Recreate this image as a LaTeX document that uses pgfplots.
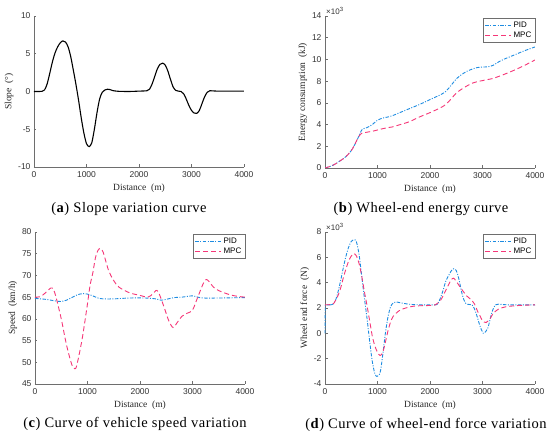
\documentclass[border=0pt]{standalone}
\usepackage{pgfplots}
\pgfplotsset{compat=1.18}
\usepackage{fontspec}
\setmainfont{Liberation Serif}
\newfontfamily\arialf{Liberation Sans}
\newfontfamily\capf[LetterSpace=3.5]{Liberation Serif}
\definecolor{pidblue}{RGB}{30,140,225}
\definecolor{mpcpink}{RGB}{245,55,120}
\definecolor{axgray}{RGB}{110,110,110}
\pgfplotsset{
  myax/.style={
    scale only axis,
    axis x line*=bottom, axis y line*=left,
    axis line style={axgray, line width=0.5pt},
    tick style={axgray, line width=0.5pt},
    tick align=inside,
    major tick length=2.5pt,
    xmin=0, xmax=4000,
    xtick={0,1000,2000,3000,4000},
    scaled ticks=false,
    /pgf/number format/assume math mode=true,
    /pgf/number format/1000 sep={},
    tick label style={font=\arialf\fontsize{8.5}{10}\selectfont, text=black!80},
    xticklabel style={yshift=-1pt},
    label style={font=\fontsize{9.5}{11}\selectfont, text=black!85},
    xlabel={Distance\enspace(m)},
    xlabel style={yshift=1pt},
    ylabel style={yshift=-2pt},
    legend cell align=left,
    legend style={at={(1,0.985)}, anchor=north east, draw=axgray,
      font=\arialf\fontsize{8}{9}\selectfont, inner sep=1.5pt, row sep=-1pt},
  },
  pid/.style={color=pidblue, line width=0.9pt, dash pattern=on 3.5pt off 1.5pt on 1pt off 1.5pt},
  mpc/.style={color=mpcpink, line width=0.9pt, dash pattern=on 5pt off 3pt},
  pidleg/.style={legend image code/.code={\color{pidblue}\draw[pidblue, line width=0.9pt, dash pattern=on 3.5pt off 1.5pt on 1pt off 1.5pt] (0pt,0pt) -- (26pt,0pt);}},
  mpcleg/.style={legend image code/.code={\color{mpcpink}\draw[mpcpink, line width=0.9pt, dash pattern=on 5pt off 3pt] (0pt,0pt) -- (26pt,0pt);}},
}
\begin{document}
\begin{tikzpicture}
\path (0pt,0pt) rectangle (550pt,436pt);

% (a)
\begin{axis}[myax, at={(34pt,269pt)}, anchor=south west, width=210pt, height=151pt,
  ymin=-10, ymax=10, ytick={-10,-5,0,5,10}, ylabel={Slope\enspace(°)}]
\addplot[black, line width=1.1pt, smooth] coordinates {
(0,0) (100,0) (150,0.02) (200,0.2) (250,1.0) (300,2.4) (350,3.9) (400,5.1) (450,5.9) (500,6.45) (550,6.7) (600,6.55) (650,5.9) (700,4.6) (750,2.8) (800,0.9) (850,-1.2) (900,-3.5) (950,-5.5) (1000,-6.9) (1050,-7.3) (1100,-6.8) (1150,-5.0) (1200,-2.8) (1250,-1.0) (1300,-0.1) (1350,0.2) (1400,0.3) (1450,0.25) (1500,0.12) (1600,0.03) (1800,0.0) (2000,0.05) (2150,0.1) (2200,0.3) (2250,1.0) (2300,2.0) (2350,3.0) (2400,3.6) (2450,3.75) (2500,3.5) (2550,2.7) (2600,1.6) (2650,0.6) (2700,0.15) (2750,0.05) (2800,0.0) (2850,-0.3) (2900,-1.0) (2950,-1.85) (3000,-2.5) (3050,-2.85) (3100,-2.9) (3150,-2.5) (3200,-1.6) (3250,-0.7) (3300,-0.1) (3350,0.1) (3500,0.05) (4000,0.05)};
\end{axis}
\node[font=\capf\fontsize{14.5}{16}\selectfont] at (129pt,227pt) {(\textbf{a}) Slope variation curve};

% (b)
\begin{axis}[myax, at={(325pt,268pt)}, anchor=south west, width=210pt, height=152pt,
  ymin=0, ymax=14, ytick={0,2,...,14}, ylabel={Energy consumption\enspace(kJ)}]
\addlegendimage{pidleg}\addlegendentry{PID}
\addlegendimage{mpcleg}\addlegendentry{MPC}
\addplot[pid, smooth, forget plot] coordinates {
(0,0) (100,0.15) (200,0.38) (300,0.7) (400,1.05) (500,1.6) (550,2.0) (600,2.45) (650,3.0) (700,3.5) (750,3.65) (800,3.72) (900,4.0) (1000,4.4) (1100,4.6) (1200,4.7) (1300,4.85) (1400,5.05) (1600,5.45) (1800,5.85) (2000,6.3) (2200,6.75) (2300,7.05) (2400,7.6) (2500,8.2) (2600,8.6) (2700,8.9) (2800,9.1) (2900,9.25) (3000,9.3) (3100,9.32) (3200,9.45) (3300,9.75) (3400,10.0) (3600,10.4) (3800,10.8) (4000,11.15)};
\addplot[mpc, smooth, forget plot] coordinates {
(0,0) (100,0.15) (200,0.38) (300,0.7) (400,1.05) (500,1.6) (550,2.0) (600,2.5) (650,2.95) (700,3.2) (750,3.25) (800,3.3) (900,3.38) (1000,3.5) (1100,3.62) (1200,3.72) (1300,3.8) (1400,3.95) (1600,4.25) (1800,4.7) (2000,5.1) (2200,5.55) (2300,5.85) (2400,6.35) (2500,6.9) (2600,7.25) (2700,7.55) (2800,7.8) (2900,7.95) (3000,8.05) (3100,8.15) (3200,8.25) (3400,8.6) (3600,9.0) (3800,9.45) (4000,9.95)};
\end{axis}
\node[font=\arialf\fontsize{8}{9}\selectfont, text=black!80, anchor=south west, inner sep=0pt] at (326pt,421pt) {×10\textsuperscript{3}};
\node[font=\capf\fontsize{14.5}{16}\selectfont] at (421pt,227pt) {(\textbf{b}) Wheel-end energy curve};

% (c)
\begin{axis}[myax, at={(35pt,52pt)}, anchor=south west, width=210pt, height=152pt,
  ymin=45, ymax=80, ytick={45,50,...,80}, ylabel={Speed\enspace(km/h)}]
\addlegendimage{pidleg}\addlegendentry{PID}
\addlegendimage{mpcleg}\addlegendentry{MPC}
\addplot[pid, smooth, forget plot] coordinates {
(0,64.7) (200,64.5) (400,64.1) (500,64.0) (600,64.3) (700,64.9) (800,65.5) (900,65.8) (1000,65.7) (1100,65.3) (1200,64.8) (1300,64.6) (1500,64.6) (1800,64.8) (2100,64.8) (2300,64.6) (2400,64.3) (2500,64.5) (2650,64.9) (2800,65.0) (3000,65.3) (3100,65.0) (3200,64.8) (3500,64.8) (4000,64.9)};
\addplot[mpc, smooth, forget plot] coordinates {
(0,65.0) (100,65.1) (200,66.0) (300,67.1) (350,66.8) (400,65.0) (500,60.0) (600,54.0) (700,49.5) (760,48.5) (800,49.5) (900,55.5) (1000,63.5) (1050,67.8) (1100,70.5) (1150,74.0) (1200,75.8) (1250,76.2) (1300,75.3) (1400,71.2) (1500,68.8) (1600,67.3) (1800,66.0) (2000,65.4) (2150,65.0) (2250,65.8) (2300,66.5) (2350,66.2) (2450,63.0) (2550,59.5) (2630,58.0) (2700,59.0) (2800,60.6) (2900,61.3) (3000,62.0) (3100,65.0) (3200,68.0) (3250,69.0) (3300,68.8) (3400,67.3) (3500,66.5) (3700,65.6) (3850,65.2) (4000,65.0)};
\end{axis}
\node[font=\capf\fontsize{14.5}{16}\selectfont] at (135pt,12pt) {(\textbf{c}) Curve of vehicle speed variation};

% (d)
\begin{axis}[myax, at={(325pt,52pt)}, anchor=south west, width=210pt, height=152pt,
  clip=false,
  ymin=-4, ymax=8, ytick={-4,-2,...,8}, ylabel={Wheel end force\enspace(N)}]
\addlegendimage{pidleg}\addlegendentry{PID}
\addlegendimage{mpcleg}\addlegendentry{MPC}
\addplot[pid, forget plot] coordinates {
(0,0) (5,2.25) (100,2.25)};
\addplot[pid, smooth, forget plot] coordinates {
(100,2.25) (150,2.3) (200,2.6) (250,3.3) (300,4.2) (350,5.2) (400,6.1) (450,6.8) (500,7.25) (560,7.4) (600,7.2) (650,6.2) (700,4.5) (750,2.8) (800,1.2) (850,-0.6) (900,-2.2) (950,-3.2) (990,-3.4) (1030,-3.3) (1060,-2.9) (1100,-1.7) (1150,0.0) (1200,1.3) (1250,2.1) (1300,2.4) (1350,2.48) (1450,2.4) (1600,2.3) (1800,2.25) (2100,2.25) (2150,2.35) (2200,2.8) (2250,3.4) (2300,4.1) (2400,4.9) (2450,5.1) (2500,4.95) (2550,4.3) (2600,3.3) (2650,2.6) (2700,2.3) (2800,2.25) (2850,1.9) (2900,1.3) (2950,0.6) (3000,0.1) (3030,0.0) (3100,0.4) (3150,1.2) (3200,1.9) (3250,2.25) (3300,2.3) (3500,2.25) (4000,2.25)};
\addplot[mpc, smooth, forget plot] coordinates {
(0,2.25) (150,2.3) (200,2.6) (250,3.0) (300,3.6) (350,4.4) (400,5.1) (450,5.7) (500,6.1) (550,6.3) (600,6.1) (650,5.5) (700,4.5) (750,3.3) (800,2.2) (850,1.0) (900,-0.2) (950,-1.0) (1000,-1.5) (1050,-1.75) (1100,-1.5) (1150,-0.7) (1200,0.2) (1250,0.9) (1300,1.35) (1400,1.75) (1500,1.95) (1700,2.15) (2000,2.2) (2100,2.25) (2200,2.6) (2300,3.4) (2400,4.2) (2450,4.35) (2500,4.1) (2600,3.5) (2700,2.95) (2800,2.6) (2850,2.3) (2900,1.8) (2950,1.4) (3000,1.0) (3070,0.85) (3150,1.2) (3200,1.55) (3300,1.9) (3450,2.1) (3700,2.2) (4000,2.25)};
\end{axis}
\node[font=\arialf\fontsize{8}{9}\selectfont, text=black!80, anchor=south west, inner sep=0pt] at (326pt,205pt) {×10\textsuperscript{3}};
\node[font=\capf\fontsize{14.5}{16}\selectfont] at (426pt,11pt) {(\textbf{d}) Curve of wheel-end force variation};
\end{tikzpicture}
\end{document}
